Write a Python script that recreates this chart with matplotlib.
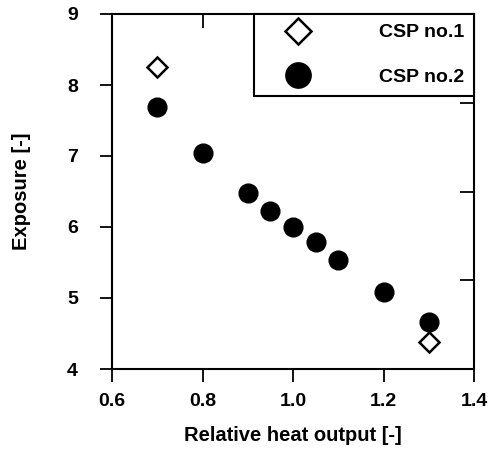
import matplotlib
matplotlib.use("Agg")
import matplotlib.pyplot as plt

# data
heat_no1 = [0.7, 1.3]
exposure_no1 = [8.25, 4.38]
heat_no2 = [0.7, 0.8, 0.9, 0.95, 1.0, 1.05, 1.1, 1.2, 1.3]
exposure_no2 = [7.69, 7.04, 6.48, 6.22, 6.0, 5.79, 5.53, 5.09, 4.66]

xticks = [0.6, 0.8, 1.0, 1.2, 1.4]
xticklabels = ["0.6", "0.8", "1.0", "1.2", "1.4"]
yticks = [4, 5, 6, 7, 8, 9]

plt.rcParams['font.family'] = ['Liberation Sans', 'DejaVu Sans']
plt.rcParams['font.weight'] = 'bold'

fig = plt.figure(figsize=(4.92, 4.5), dpi=100)
ax = fig.add_axes([112/492, 1 - 369/450, (474-112)/492, (369-14)/450])

ax.plot(heat_no1, exposure_no1, linestyle='none', marker='D', markersize=10,
        markerfacecolor='white', markeredgecolor='black', markeredgewidth=1.8,
        label='CSP no.1', zorder=3)
ax.plot(heat_no2, exposure_no2, linestyle='none', marker='o', markersize=13.5,
        markerfacecolor='black', markeredgecolor='black', label='CSP no.2', zorder=4)

ax.set_xlim(0.6, 1.4)
ax.set_ylim(4, 9)
ax.set_xticks(xticks)
ax.set_xticklabels(xticklabels)
ax.set_yticks(yticks)
ax.tick_params(direction='out', length=9, width=1.3, labelsize=14)
ax.tick_params(axis='x', pad=8.6)
ax.tick_params(axis='y', pad=15.5)

# inward ticks on top and right
sec_x = ax.secondary_xaxis('top')
sec_x.set_xticks([0.8])
sec_x.tick_params(direction='in', length=10, width=1.3)
sec_x.set_xticklabels([])
sec_y = ax.secondary_yaxis('right')
sec_y.set_yticks([5.25, 6.5, 7.75])
sec_y.tick_params(direction='in', length=10, width=1.3)
sec_y.set_yticklabels([])
for a in (sec_x, sec_y):
    for s in a.spines.values():
        s.set_visible(False)

for s in ax.spines.values():
    s.set_linewidth(1.5)

ax.set_xlabel('Relative heat output [-]', fontsize=14.5, fontweight='bold', labelpad=11)
ax.set_ylabel('Exposure [-]', fontsize=14.5, fontweight='bold', labelpad=26)

leg = ax.legend(loc='upper right', bbox_to_anchor=(1.0, 1.0), frameon=True,
                fancybox=False, edgecolor='black', framealpha=1, fontsize=14,
                markerscale=1.35, borderaxespad=0, handlelength=3.6,
                handletextpad=2.35, labelspacing=1.4, borderpad=0.5)
leg.get_frame().set_linewidth(1.5)
leg.set_zorder(5)

fig.savefig('out.png', dpi=100)
